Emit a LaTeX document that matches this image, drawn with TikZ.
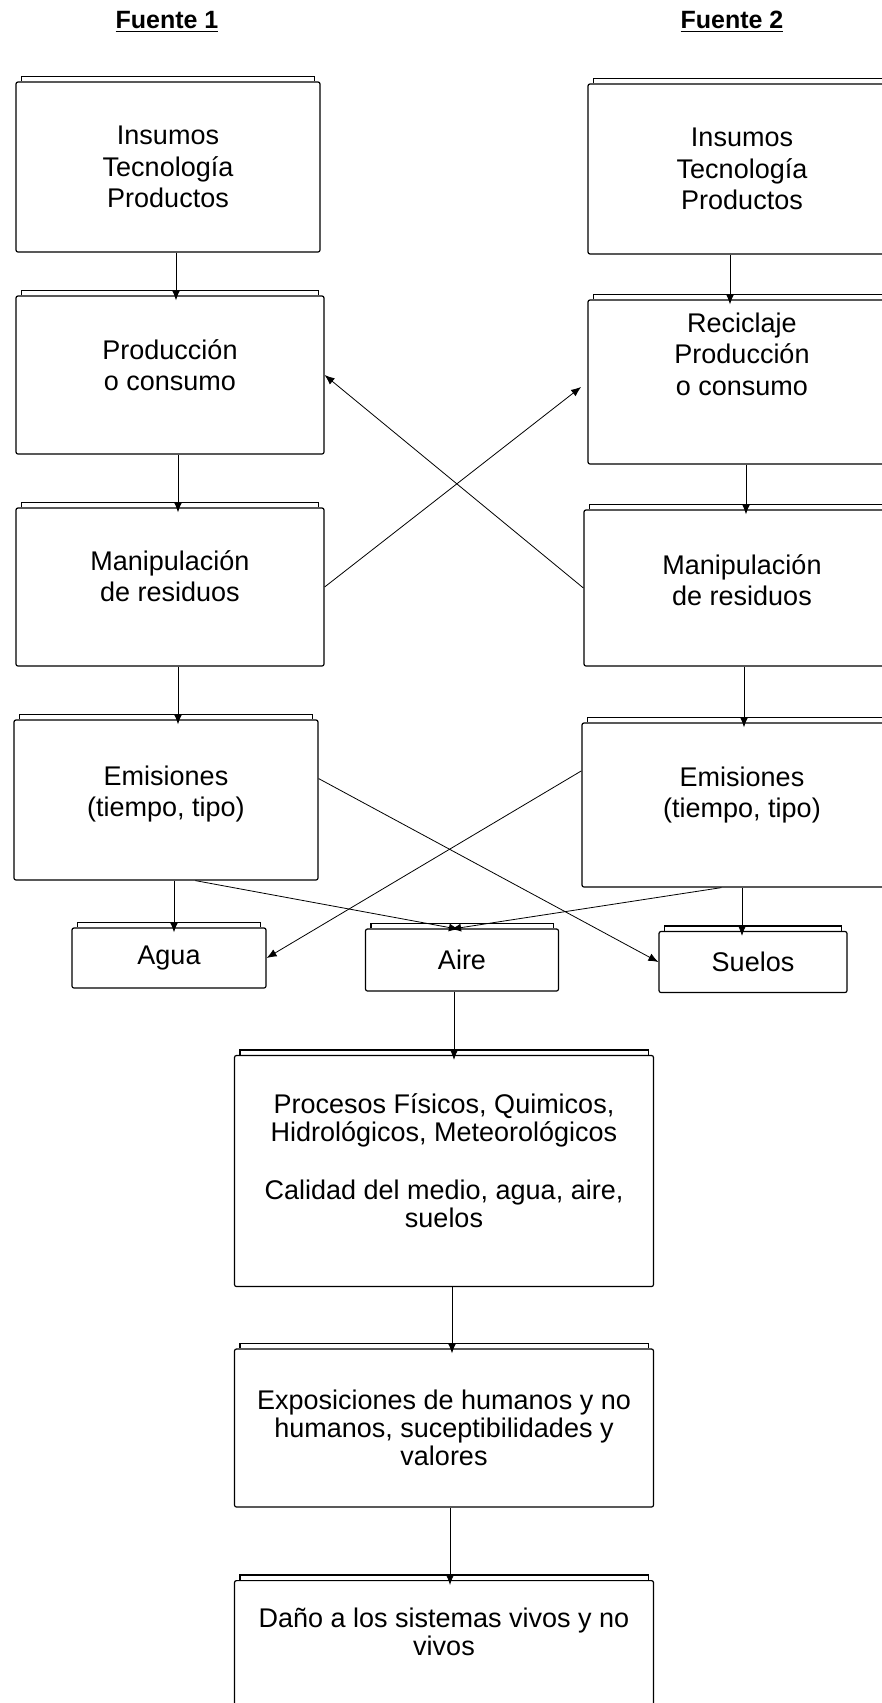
\documentclass[tikz,border=0pt]{standalone}
\usepackage{fontspec}
\setmainfont{Liberation Sans}
\usetikzlibrary{arrows.meta}

\begin{document}
\begin{tikzpicture}[x=0.5pt,y=-0.5pt,
		caja/.style={draw, semithick, rounded corners=1pt, align=center, inner sep=2pt, font=\fontsize{13.5}{15.75}\selectfont},
		ancha/.style={caja, minimum width=209.5pt, font=\fontsize{13.5}{14}\selectfont},
		titulo/.style={font=\fontsize{12.5}{14}\selectfont\bfseries},
		flecha/.style={-{Latex[length=5pt,width=4pt]}, thin},
		baja/.style={flecha, shorten >=-2.5pt},
		labio/.style={semithick}]
	\useasboundingbox (0,0) rectangle (882,1703);
	\node[titulo] (f1) at (167,22) {\underline{Fuente 1}};
	\node[titulo] (f2) at (732,22) {\underline{Fuente 2}};
	\node[caja, minimum width=152pt, minimum height=85pt] (b1l) at (168,167) {Insumos\\Tecnología\\Productos};
	\node[caja, minimum width=154pt, minimum height=85pt] (b1r) at (742,169) {Insumos\\Tecnología\\Productos};
	\node[caja, minimum width=154pt, minimum height=79pt, text depth=10pt] (b2l) at (170,375) {Producción\\o consumo};
	\node[caja, minimum width=154pt, minimum height=82pt, text depth=28pt] (b2r) at (742,382) {Reciclaje\\Producción\\o consumo};
	\node[caja, minimum width=154pt, minimum height=79pt, text depth=11pt] (b3l) at (170,587) {Manipulación\\de residuos};
	\node[caja, minimum width=158pt, minimum height=78pt, text depth=8pt] (b3r) at (742,588) {Manipulación\\de residuos};
	\node[caja, minimum width=152pt, minimum height=80pt, text depth=9pt] (b4l) at (166,800) {Emisiones\\(tiempo, tipo)};
	\node[caja, minimum width=160pt, minimum height=82pt, text depth=13pt] (b4r) at (742,805) {Emisiones\\(tiempo, tipo)};
	\node[caja, minimum width=97pt, minimum height=30pt] (agua) at (169,958) {Agua};
	\node[caja, minimum width=96.5pt, minimum height=31pt] (aire) at (462,960) {Aire};
	\node[caja, minimum width=94pt, minimum height=30.5pt] (suelos) at (753,962) {Suelos};
	\node[ancha, minimum height=115.5pt, text depth=10pt] (procesos) at (444,1171) {Procesos Físicos, Quimicos,\\Hidrológicos, Meteorológicos\\[15pt]Calidad del medio, agua, aire,\\suelos};
	\node[ancha, minimum height=79pt] (expo) at (444,1428) {Exposiciones de humanos y no\\humanos, suceptibilidades y\\valores};
	\node[ancha, anchor=north, inner sep=4pt, text height=33.5pt, text depth=50pt] (dano) at (444,1580) {Daño a los sistemas vivos y no\\vivos};
	\foreach \n in {b1l,b1r,b2l,b2r,b3l,b3r,b4l,b4r,agua,aire,suelos,procesos,expo,dano}
		\draw[labio] ([xshift=3pt]\n.north west) |- ([yshift=2.5pt]\n.north) -| ([xshift=-3pt]\n.north east);
	\draw[baja] ([xshift=4pt]b1l.south) -- ([xshift=4pt]b1l.south |- b2l.north);
	\draw[baja] ([xshift=4pt]b2l.south) -- ([xshift=4pt]b2l.south |- b3l.north);
	\draw[baja] ([xshift=4pt]b3l.south) -- ([xshift=4pt]b3l.south |- b4l.north);
	\draw[baja] ([xshift=-6pt]b1r.south) -- ([xshift=-6pt]b1r.south |- b2r.north);
	\draw[baja] ([xshift=2pt]b2r.south) -- ([xshift=2pt]b2r.south |- b3r.north);
	\draw[baja] ([xshift=1pt]b3r.south) -- ([xshift=1pt]b3r.south |- b4r.north);
	\draw[flecha, shorten >=4pt] (b3l.east) -- (b2r.west);
	\draw[flecha] (b3r.west) -- (b2l.east);
	\draw[flecha] (b4l.8) -- (suelos.west);
	\draw[flecha] (b4r.168) -- (agua.east);
	\draw[baja] ([xshift=4pt]b4l.south) -- ([xshift=4pt]b4l.south |- agua.north);
	\draw[baja] (b4r.south) -- (b4r.south |- suelos.north);
	\draw[baja] (b4l.-70) -- ([xshift=-4pt]aire.north);
	\draw[baja] (b4r.-104) -- ([xshift=-3pt]aire.north);
	\draw[baja] ([xshift=-4pt]aire.south) -- ([xshift=-4pt]aire.south |- procesos.north);
	\draw[baja] ([xshift=4pt]procesos.south) -- ([xshift=4pt]expo.north);
	\draw[baja] ([xshift=3pt]expo.south) -- ([xshift=3pt]dano.north);
\end{tikzpicture}
\end{document}
